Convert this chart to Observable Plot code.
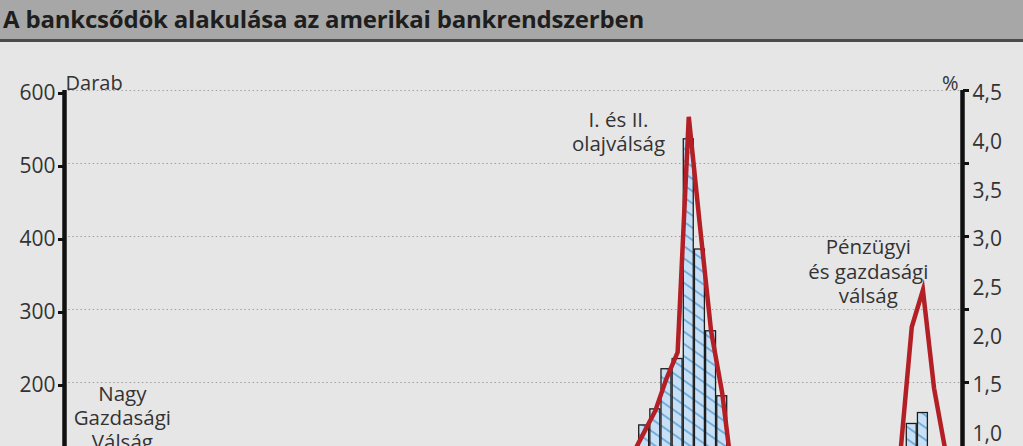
<!DOCTYPE html>
<html>
<head>
<meta charset="utf-8">
<script src="https://cdn.jsdelivr.net/npm/d3@7"></script>
<script src="https://cdn.jsdelivr.net/npm/@observablehq/plot@0.6"></script>
<style>
  html, body { margin: 0; padding: 0; overflow: hidden; background: #e6e6e6; width: 1023px; height: 446px; }
  #title { height: 39px; background: #a7a7a7; border-bottom: 3px solid #4b4b4b; font-family: "Open Sans", sans-serif; font-weight: 700; font-size: 24px; color: #1e1e1e; padding-left: 3px; line-height: 38px; white-space: nowrap; letter-spacing: -0.2px; }
  #chart svg { display: block; }
</style>
</head>
<body>
<div id="title">A bankcsődök alakulása az amerikai bankrendszerben</div>
<div id="chart"></div>
<script>
// ---- data ----
const startYear = 1934;
// number of bank failures (Darab), 1934–2012
const failures = [
  61, 32, 72, 83, 80, 72, 48, 17, 23, 5,
  2, 1, 2, 6, 3, 9, 5, 5, 4, 5,
  4, 5, 3, 3, 9, 3, 2, 9, 3, 2,
  8, 9, 8, 4, 3, 9, 8, 6, 3, 6,
  4, 14, 17, 6, 7, 10, 22, 40, 95, 99,
  105, 142, 164, 219, 233, 534, 383, 271, 182, 50,
  15, 8, 6, 1, 3, 8, 7, 4, 11, 3,
  4, 0, 0, 3, 25, 144, 159, 92, 51
];
// failed banks' share (%), 1934–2012 (right axis)
const percent = [
  0.60, 0.35, 0.45, 0.50, 0.45, 0.40, 0.30, 0.10, 0.12, 0.05,
  0.03, 0.02, 0.02, 0.03, 0.03, 0.04, 0.03, 0.03, 0.03, 0.03,
  0.03, 0.03, 0.02, 0.02, 0.04, 0.02, 0.02, 0.04, 0.02, 0.02,
  0.04, 0.05, 0.04, 0.03, 0.02, 0.05, 0.05, 0.04, 0.03, 0.06,
  0.08, 0.12, 0.15, 0.06, 0.07, 0.10, 0.20, 0.40, 0.60, 0.65,
  0.77, 0.99, 1.21, 1.54, 1.81, 4.23, 3.11, 2.03, 1.39, 0.46,
  0.10, 0.05, 0.04, 0.02, 0.03, 0.05, 0.04, 0.03, 0.06, 0.02,
  0.02, 0.01, 0.01, 0.05, 0.80, 2.07, 2.45, 1.44, 0.81
];
const leftTicks = [0, 100, 200, 300, 400, 500, 600];
const rightLabels = [0.5, 1.0, 1.5, 2.0, 2.5, 3.0, 3.5, 4.0, 4.5];
const annotations = [
  {text: "I. és II.\nolajválság", year: 1982.7, value: 544},
  {text: "Pénzügyi\nés gazdasági\nválság", year: 2005.1, value: 353},
  {text: "Nagy\nGazdasági\nVálság", year: 1938.2, value: 152}
];

// ---- build ----
const K = 600 / 4.5; // percent -> left units
const rows = failures.map((c, i) => ({year: startYear + i, count: c, pct: percent[i]}));
const xDomain = [1933.01, 2013.55];
const FS = 21;
const AFS = 20.5;

const chart = Plot.plot({
  width: 1023,
  height: 516,
  marginTop: 48,
  marginBottom: 30,
  marginLeft: 64,
  marginRight: 61,
  style: {background: "transparent", fontFamily: "Open Sans, sans-serif", fontSize: FS + "px", color: "#333", overflow: "visible"},
  x: {domain: xDomain, axis: null},
  y: {domain: [0, 600], axis: null},
  marks: [
    Plot.ruleY([100, 200, 300, 400, 500, 600], {stroke: "#a0a0a0", strokeWidth: 1, strokeDasharray: "1.5,2.6"}),
    Plot.rect(rows, {x1: d => d.year - 0.5, x2: d => d.year + 0.5, y1: 0, y2: "count", inset: 0.6,
      fill: "url(#hatch)", stroke: "#1c1c1c", strokeWidth: 1.3}),
    Plot.line(rows, {x: "year", y: d => d.pct * K, stroke: "#b31f24", strokeWidth: 4.5, strokeLinejoin: "miter", strokeMiterlimit: 10}),
    // left axis
    Plot.axisY(leftTicks, {anchor: "left", tickSize: 6, tickPadding: 3, stroke: "#111", strokeWidth: 3, fill: "#333", fontSize: FS, dy: 3, label: null}),
    // right axis tick marks (at gridlines)
    Plot.axisY(leftTicks, {anchor: "right", tickSize: 6, stroke: "#111", strokeWidth: 3, tickFormat: () => "", label: null}),
    // right axis labels (percent)
    Plot.axisY(rightLabels.map(p => p * K), {anchor: "right", tickSize: 0, tickPadding: 10, fill: "#333", fontSize: FS, dy: 3,
      tickFormat: v => (v / K).toFixed(1).replace(".", ","), label: null}),
    Plot.ruleX([xDomain[0]], {stroke: "#111", strokeWidth: 4.5}),
    Plot.ruleX([xDomain[1]], {stroke: "#111", strokeWidth: 4.5}),
    Plot.text(["Darab"], {frameAnchor: "top-left", dx: 1, dy: -15, textAnchor: "start", fontSize: 20, fill: "#333"}),
    Plot.text(["%"], {frameAnchor: "top-right", dx: -4, dy: -15, textAnchor: "end", fontSize: 20, fill: "#333"}),
    Plot.text(annotations, {x: "year", y: "value", text: "text", fontSize: AFS, lineHeight: 1.18, fill: "#333"})
  ]
});

// hatch pattern for bars
const svg = d3.select(chart);
const defs = svg.insert("defs", ":first-child");
const pat = defs.append("pattern")
  .attr("id", "hatch")
  .attr("patternUnits", "userSpaceOnUse")
  .attr("width", 10).attr("height", 10)
  .attr("patternTransform", "rotate(35)");
pat.append("rect").attr("width", 10).attr("height", 10).attr("fill", "#c8e0f5");
pat.append("line").attr("x1", 0).attr("y1", 5).attr("x2", 10).attr("y2", 5)
  .attr("stroke", "#74aedd").attr("stroke-width", 2);

document.getElementById("chart").appendChild(chart);
</script>
</body>
</html>
